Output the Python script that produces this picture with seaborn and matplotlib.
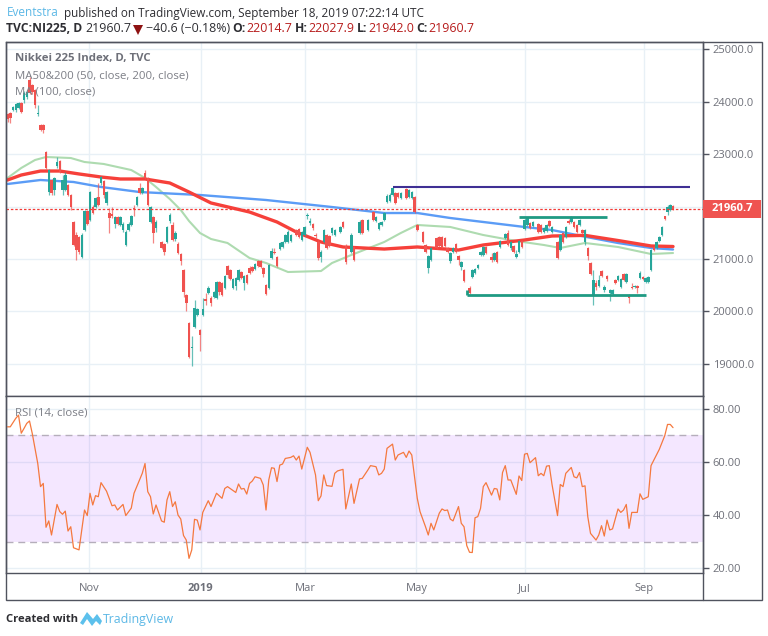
import numpy as np
import pandas as pd
import matplotlib
matplotlib.use("Agg")
import matplotlib.pyplot as plt
from matplotlib.patches import Rectangle, Polygon
import seaborn as sns

# Daily candles (bar = trading session counted from the left edge)
bars = [0, 1, 2, 3, 4, 5, 6, 7, 8, 9,
        10, 11, 12, 13, 14, 15, 16, 17, 18, 19,
        20, 21, 22, 23, 24, 25, 26, 27, 28, 29,
        30, 31, 32, 33, 34, 35, 36, 37, 38, 39,
        40, 41, 42, 43, 44, 45, 46, 47, 48, 49,
        50, 51, 52, 53, 54, 56, 57, 58, 59, 60,
        61, 62, 63, 64, 65, 66, 67, 68, 69, 70,
        71, 72, 73, 74, 75, 76, 77, 78, 79, 80,
        81, 82, 83, 84, 85, 86, 87, 88, 89, 90,
        91, 92, 93, 94, 95, 96, 97, 98, 99, 100,
        101, 102, 103, 105, 106, 107, 108, 109, 110, 111,
        112, 113, 114, 115, 116, 117, 118, 119, 121, 122,
        123, 125, 126, 128, 129, 131, 133, 134, 135, 136,
        137, 138, 139, 140, 141, 142, 143, 145, 146, 147,
        148, 149, 151, 152, 153, 154, 156, 157, 158, 159,
        160, 161, 162, 163, 164, 165, 166, 168, 169, 170,
        171, 172, 173, 174, 176, 177, 178, 179, 181, 182,
        183, 184, 185, 186, 187, 188, 189, 190, 191, 193,
        194, 195, 196, 197, 198, 200, 201, 202, 203, 204,
        205, 206, 207, 208, 209, 210, 211, 212, 213, 214,
        215, 216, 217, 218, 219, 220, 221, 222, 223, 224,
        225, 226, 227, 228, 229, 230, 231, 232, 233, 234,
        235, 236, 237, 238, 239, 240, 241, 242]

opens = [23762, 23781, 23839, 23839, 23877, 23972, 24029, 24086, 24410, 24315,
         24220, 23762, 23553, 23553, 23038, 22276, 22505, 22314, 22772, 22867,
         22314, 22314, 22410, 22219, 21705, 21457, 21419, 21038, 21552, 21914,
         21743, 21990, 21990, 22181, 22448, 22486, 22067, 21876, 21857, 21667,
         21800, 21648, 21552, 21267, 21552, 21648, 21971, 22029, 22353, 22257,
         22638, 22543, 21705, 21800, 21591, 21324, 21286, 21324, 21724, 21648,
         21381, 21286, 21095, 20790, 20314, 19781, 19305, 19705, 19933, 19648,
         19933, 20238, 20352, 20257, 20276, 20257, 20562, 20543, 20448, 20867,
         20790, 20448, 20486, 20600, 20752, 20543, 20695, 20829, 20848, 20810,
         20962, 20962, 20829, 20505, 20448, 21019, 21133, 21038, 21190, 21229,
         21324, 21324, 21343, 21552, 21572, 21362, 21457, 21819, 21686, 21667,
         21457, 21324, 21038, 21324, 21457, 21438, 21495, 21457, 21514, 21705,
         21248, 21133, 21229, 21495, 21743, 21552, 21895, 21724, 21572, 21648,
         21743, 22086, 22105, 22219, 22257, 22257, 22162, 22334, 22181, 22162,
         22181, 21648, 21514, 21267, 20829, 20981, 21400, 21419, 21419, 21400,
         21210, 20962, 21133, 21286, 21057, 20848, 20790, 20448, 20657, 20733,
         20829, 21076, 21076, 21229, 21038, 20981, 21133, 21229, 21400, 21495,
         21210, 21248, 21038, 21133, 21343, 21572, 21648, 21686, 21629, 21667,
         21648, 21514, 21533, 21724, 21514, 21324, 21171, 21495, 21419, 21724,
         21705, 21705, 21648, 21648, 21552, 21324, 21210, 20924, 20314, 20543,
         20486, 20771, 20410, 20676, 20352, 20333, 20600, 20600, 20467, 20714,
         20562, 20314, 20467, 20462, 20486, 20638, 20657, 20562, 20562, 20790,
         21229, 21210, 21343, 21457, 21819, 21895, 21933, 22014.7]

highs = [23781, 23800, 23915, 23972, 23991, 23991, 24200, 24220, 24467, 24334,
         24239, 23934, 23572, 23572, 23057, 22715, 22524, 22562, 22943, 22886,
         22600, 22657, 22429, 22238, 21724, 21514, 21438, 21495, 21933, 21933,
         22295, 22029, 22181, 22448, 22581, 22505, 22295, 21971, 21990, 21819,
         21819, 21819, 21705, 21552, 21705, 21838, 22029, 22200, 22448, 22372,
         22695, 22562, 22010, 21819, 21743, 21343, 21305, 21629, 21876, 21705,
         21533, 21324, 21114, 20810, 20333, 19800, 19533, 20219, 20067, 19667,
         20257, 20352, 20486, 20295, 20390, 20581, 20581, 20562, 20695, 20886,
         20810, 20638, 20657, 20810, 20771, 20695, 20714, 20867, 20867, 20924,
         20981, 20981, 20848, 20524, 20905, 21210, 21210, 21057, 21324, 21343,
         21476, 21552, 21476, 21572, 21591, 21533, 21629, 21876, 21781, 21686,
         21495, 21362, 21171, 21572, 21476, 21457, 21610, 21572, 21629, 21724,
         21286, 21495, 21248, 21743, 21762, 21762, 21914, 21819, 21705, 21724,
         21895, 22238, 22257, 22372, 22276, 22276, 22276, 22353, 22334, 22295,
         22200, 21667, 21533, 21286, 21076, 21229, 21419, 21438, 21438, 21419,
         21229, 21133, 21229, 21305, 21076, 20962, 20810, 20486, 20810, 20829,
         20905, 21152, 21248, 21248, 21114, 21133, 21152, 21362, 21495, 21552,
         21343, 21267, 21171, 21362, 21362, 21781, 21800, 21705, 21724, 21686,
         21667, 21610, 21667, 21743, 21629, 21343, 21476, 21514, 21629, 21762,
         21819, 21724, 21667, 21762, 21572, 21572, 21229, 20943, 20790, 20600,
         20695, 20790, 20505, 20695, 20429, 20429, 20619, 20695, 20638, 20733,
         20733, 20333, 20543, 20505, 20505, 20771, 20676, 20657, 20676, 21190,
         21248, 21343, 21438, 21629, 21819, 22029, 22048, 22027.9]

lows = [23610, 23591, 23820, 23800, 23858, 23781, 23972, 24048, 24143, 24143,
        23877, 23724, 23438, 23400, 22715, 22219, 22219, 22219, 22734, 22638,
        22219, 22295, 22200, 21933, 21248, 20981, 21095, 21019, 21533, 21648,
        21724, 21857, 21971, 22010, 22410, 22162, 22029, 21495, 21781, 21591,
        21648, 21629, 21514, 21248, 21533, 21629, 21819, 22010, 22238, 22238,
        22524, 22010, 21686, 21305, 21514, 21190, 21076, 21305, 21686, 21343,
        21343, 21095, 20886, 20276, 20010, 19114, 18962, 19686, 19914, 19248,
        19914, 20124, 20333, 20105, 20257, 20238, 20314, 20295, 20429, 20638,
        20600, 20429, 20410, 20581, 20619, 20410, 20524, 20714, 20752, 20790,
        20848, 20829, 20657, 20314, 20429, 21000, 21095, 20848, 21171, 21210,
        21305, 21305, 21324, 21438, 21400, 21343, 21438, 21762, 21648, 21552,
        21400, 20981, 20943, 21305, 21190, 21229, 21457, 21438, 21495, 21591,
        20905, 21114, 20962, 21476, 21476, 21533, 21724, 21705, 21552, 21629,
        21724, 22067, 22086, 22200, 22048, 22162, 22143, 22143, 22162, 22143,
        21876, 21533, 21305, 21114, 20733, 20962, 21190, 21229, 21210, 21229,
        21114, 20924, 21114, 21114, 20886, 20790, 20562, 20333, 20638, 20714,
        20810, 21057, 21057, 21095, 20943, 20962, 20924, 21210, 21381, 21248,
        21171, 21114, 21019, 21114, 21210, 21552, 21629, 21572, 21610, 21495,
        21495, 21495, 21514, 21610, 21495, 21000, 21152, 21305, 21400, 21667,
        21686, 21591, 21495, 21629, 21476, 21267, 20981, 20695, 20124, 20410,
        20467, 20657, 20371, 20581, 20200, 20314, 20524, 20581, 20448, 20581,
        20543, 20162, 20429, 20448, 20352, 20619, 20600, 20543, 20543, 20771,
        21152, 21190, 21324, 21438, 21743, 21838, 21914, 21942]

closes = [23667, 23686, 23896, 23953, 23972, 23800, 24162, 24181, 24162, 24181,
          23934, 23781, 23457, 23457, 22734, 22695, 22257, 22543, 22848, 22657,
          22505, 22600, 22219, 21990, 21267, 21171, 21133, 21457, 21914, 21667,
          22276, 21876, 22162, 22029, 22562, 22219, 22276, 21781, 21819, 21800,
          21667, 21800, 21667, 21514, 21667, 21819, 21953, 22181, 22257, 22353,
          22543, 22029, 21990, 21495, 21705, 21210, 21133, 21610, 21838, 21362,
          21495, 21114, 20962, 20371, 20162, 19133, 19324, 20067, 20048, 19552,
          20048, 20200, 20448, 20162, 20371, 20562, 20371, 20314, 20676, 20695,
          20619, 20619, 20638, 20790, 20638, 20676, 20543, 20733, 20771, 20905,
          20867, 20848, 20714, 20333, 20886, 21152, 21114, 20867, 21305, 21324,
          21457, 21514, 21457, 21457, 21419, 21514, 21610, 21838, 21724, 21591,
          21438, 21019, 21133, 21552, 21210, 21248, 21591, 21552, 21610, 21610,
          20943, 21457, 20981, 21705, 21495, 21743, 21743, 21800, 21686, 21705,
          21876, 22200, 22219, 22353, 22067, 22181, 22257, 22162, 22314, 22276,
          21895, 21552, 21324, 21133, 21057, 21210, 21210, 21248, 21229, 21248,
          21133, 21114, 21210, 21133, 20981, 20943, 20581, 20352, 20790, 20810,
          20886, 21133, 21229, 21114, 20981, 21114, 20943, 21343, 21476, 21267,
          21324, 21133, 21095, 21343, 21229, 21743, 21781, 21591, 21705, 21514,
          21514, 21591, 21648, 21629, 21610, 21019, 21457, 21324, 21610, 21686,
          21800, 21610, 21514, 21743, 21495, 21552, 21057, 20714, 20600, 20467,
          20600, 20676, 20467, 20619, 20410, 20410, 20543, 20676, 20619, 20600,
          20714, 20257, 20448, 20486, 20448, 20733, 20619, 20638, 20657, 21171,
          21171, 21324, 21419, 21610, 21762, 21990, 22029, 21960.7]

# Moving averages
ma100_bars = [0, 5, 12, 19, 26, 34, 41, 50, 59, 66, 74, 88, 98, 105, 114, 122, 137,
              149, 164, 173, 188, 198, 210, 222, 234, 242]
ma100_values = [22505, 22600, 22676, 22676, 22620, 22562, 22524, 22524, 22448, 22276,
                22067, 21895, 21705, 21514, 21324, 21229, 21190, 21229, 21171, 21267,
                21362, 21438, 21450, 21352, 21248, 21238]

ma200_bars = [0, 12, 24, 34, 48, 70, 94, 118, 137, 149, 161, 173, 188, 198, 210, 222, 234, 242]
ma200_values = [22429, 22505, 22467, 22372, 22276, 22219, 22124, 21990, 21876, 21876,
                21781, 21705, 21610, 21552, 21425, 21305, 21210, 21181]

ma50_bars = [0, 5, 10, 14, 23, 28, 35, 45, 50, 54, 59, 63, 66, 70, 74, 80, 88, 94, 102,
             114, 118, 125, 137, 143, 149, 161, 173, 185, 195, 201, 210, 222, 234, 242]
ma50_values = [22543, 22734, 22886, 22943, 22924, 22848, 22810, 22695, 22543, 22372,
               22143, 21933, 21724, 21495, 21381, 21305, 21019, 20924, 20752, 20771,
               20924, 21076, 21324, 21495, 21648, 21610, 21457, 21343, 21267, 21210,
               21305, 21229, 21095, 21114]

# RSI(14)
rsi_bars = [0, 1, 3, 4, 5, 6, 7, 8, 9, 11, 12, 13, 14, 15, 16, 18, 19, 20, 21, 22, 23, 24,
            26, 28, 29, 30, 31, 32, 33, 34, 36, 38, 39, 40, 42, 43, 45, 46, 48, 49, 50, 51,
            52, 53, 54, 56, 57, 58, 59, 60, 61, 62, 63, 64, 65, 66, 67, 68, 69, 70, 71, 72,
            73, 74, 76, 78, 79, 80, 82, 83, 84, 85, 86, 87, 88, 89, 90, 92, 93, 94, 95, 96,
            97, 98, 99, 100, 101, 103, 104, 105, 106, 107, 109, 110, 112, 113, 114, 115, 116,
            118, 119, 120, 122, 123, 125, 126, 128, 129, 131, 132, 134, 135, 136, 137, 138,
            140, 141, 142, 144, 145, 146, 147, 149, 150, 151, 152, 153, 154, 155, 157, 158,
            159, 160, 161, 162, 164, 165, 166, 167, 168, 169, 170, 171, 172, 173, 174, 176,
            177, 178, 179, 180, 181, 182, 183, 185, 186, 187, 188, 189, 190, 192, 193, 194,
            195, 196, 197, 198, 200, 201, 202, 203, 205, 206, 207, 208, 209, 210, 211, 212,
            214, 215, 216, 217, 218, 219, 220, 222, 223, 224, 225, 226, 227, 229, 230, 231,
            233, 234, 237, 239, 240, 241, 242]
rsi_values = [73.2, 73.2, 76.4, 77.6, 70.8, 72.6, 74.5, 75.4, 70.7, 59.4, 50.7, 51.9, 35.4,
              37.8, 32.5, 44.0, 41.3, 40.3, 41.5, 34.0, 35.6, 27.7, 26.9, 41.9, 39.8, 48.2,
              43.8, 47.3, 46.9, 52.2, 49.0, 43.5, 43.8, 41.9, 44.0, 39.8, 42.6, 48.2, 53.2,
              55.7, 59.4, 48.8, 46.9, 40.4, 43.8, 37.8, 37.3, 45.7, 48.8, 43.2, 45.0, 40.0,
              38.5, 32.3, 30.6, 23.7, 26.9, 38.4, 38.1, 34.4, 41.0, 43.2, 45.4, 43.2, 48.2,
              46.3, 50.0, 50.7, 49.2, 48.5, 51.7, 49.8, 50.0, 47.9, 51.9, 52.8, 54.4, 53.8,
              51.3, 41.9, 53.2, 57.8, 57.6, 52.6, 58.8, 59.2, 61.3, 61.7, 62.3, 60.7, 62.2,
              57.3, 65.5, 63.6, 55.1, 45.4, 47.2, 55.1, 51.1, 50.8, 55.7, 56.6, 57.2, 42.3,
              51.7, 44.4, 53.6, 53.8, 56.9, 58.6, 58.2, 55.1, 55.7, 57.3, 65.1, 66.7, 60.7,
              62.6, 63.6, 61.7, 64.1, 62.6, 46.3, 41.3, 38.5, 35.6, 32.5, 36.9, 34.4, 40.7,
              42.3, 41.7, 41.9, 38.5, 37.8, 43.2, 36.9, 35.6, 28.5, 26.0, 25.9, 39.0, 39.4,
              42.5, 50.7, 52.2, 47.5, 50.0, 49.8, 45.7, 56.0, 58.6, 53.2, 53.2, 47.8, 54.7,
              53.0, 62.9, 63.2, 59.7, 61.6, 54.8, 55.7, 54.8, 58.4, 58.6, 51.5, 39.8, 51.5,
              50.7, 55.7, 57.9, 54.4, 54.0, 56.0, 50.7, 51.0, 39.4, 33.1, 30.6, 32.5, 36.0,
              32.1, 38.1, 34.4, 34.8, 42.3, 41.0, 41.9, 44.0, 35.0, 41.0, 41.0, 48.0, 45.9,
              46.9, 58.6, 64.7, 69.9, 74.1, 74.1, 72.9]

# Drawn support / resistance lines: (start bar, end bar, price)
top_line = [140, 248, 22372]
mid_line = [186, 218, 21800]
low_line = [167, 232, 20314]

last_price = 21960.7
price_ticks = [25000, 24000, 23000, 22000, 21000, 20000, 19000]
rsi_ticks = [80, 60, 40, 20]
time_tick_bars = [29.8, 70.2, 108.2, 148.7, 188, 231.5]
time_tick_labels = ["Nov", "2019", "Mar", "May", "Jul", "Sep"]

W, H = 768, 636
UP = "#26a69a"
DOWN = "#f0524f"
GRID = "#e8f0f6"
AXIS = "#50535e"
LABEL = "#6e7079"

sns.set_theme(style="white")
plt.rcParams["font.family"] = ["Open Sans", "DejaVu Sans"]

df = pd.DataFrame({"bar": bars, "open": opens, "high": highs, "low": lows, "close": closes})
df["color"] = np.where(df["close"] >= df["open"], UP, DOWN)

fig = plt.figure(figsize=(W / 100, H / 100), dpi=100, facecolor="white")


def pane(left, top, right, bottom):
    return fig.add_axes([left / W, 1 - bottom / H, (right - left) / W, (bottom - top) / H])


ax = pane(6, 42, 703, 396)
ax_rsi = pane(6, 396, 703, 573)
for a in (ax, ax_rsi):
    a.set_xlim(-0.55, 252.9)
    a.set_xticks(time_tick_bars)
    a.grid(True, color=GRID, linewidth=1)
    a.set_axisbelow(True)
    a.yaxis.tick_right()
    a.set_xlabel("")
    a.set_ylabel("")
    for s in a.spines.values():
        s.set_color(AXIS)
        s.set_linewidth(1)
ax.set_ylim(18390, 25134)
ax.set_yticks(price_ticks)
ax.set_yticklabels([f"{v:.1f}" for v in price_ticks])
ax.tick_params(axis="x", length=0, labelbottom=False)
ax.tick_params(axis="y", length=4, width=1, color=AXIS, labelsize=8, labelcolor=LABEL, pad=3)

# Moving averages go under the candles
sns.lineplot(x=ma50_bars, y=ma50_values, ax=ax, color="#aedbb0", linewidth=1.5, estimator=None, legend=False, zorder=2)
sns.lineplot(x=ma200_bars, y=ma200_values, ax=ax, color="#5b9cf6", linewidth=1.7, estimator=None, legend=False, zorder=2)
sns.lineplot(x=ma100_bars, y=ma100_values, ax=ax, color="#f6403a", linewidth=2.4, estimator=None, legend=False, zorder=2)

# Candles
ax.vlines(df["bar"], df["low"], df["high"], colors=df["color"], linewidth=0.9, alpha=0.7, zorder=3)
body = (df["close"] - df["open"]).abs().clip(lower=20)
ax.bar(df["bar"], body, bottom=df[["open", "close"]].min(axis=1), width=0.9,
       color=df["color"], linewidth=0, zorder=4)

# Trend lines
ax.hlines(top_line[2], top_line[0], top_line[1], color="#3f2f94", linewidth=1.5, zorder=5)
ax.hlines(mid_line[2], mid_line[0], mid_line[1], color="#1f9a83", linewidth=2.0, zorder=5)
ax.hlines(low_line[2], low_line[0], low_line[1], color="#1f9a83", linewidth=2.0, zorder=5)
ax.vlines(low_line[0], low_line[2], low_line[2] + 100, color="#1f9a83", linewidth=2.0, zorder=5)

# Last price
ax.axhline(last_price, color="#f23b36", linewidth=0.9, linestyle=(0, (2, 1.5)), zorder=5)

# RSI pane
ax_rsi.set_ylim(18.2, 84.8)
ax_rsi.set_yticks(rsi_ticks)
ax_rsi.set_yticklabels([f"{v:.2f}" for v in rsi_ticks])
ax_rsi.set_xticklabels(time_tick_labels)
ax_rsi.tick_params(axis="x", length=4, width=1, color=AXIS, labelsize=8, labelcolor=LABEL, pad=3)
ax_rsi.get_xticklabels()[1].set_fontweight("bold")
ax_rsi.tick_params(axis="y", length=4, width=1, color=AXIS, labelsize=8, labelcolor=LABEL, pad=3)
ax_rsi.axhspan(30, 70, color="#9915ff", alpha=0.1, linewidth=0, zorder=1)
for level in (30, 70):
    ax_rsi.axhline(level, color="#b5aebb", linewidth=1, linestyle=(0, (5, 3.5)), zorder=2)
sns.lineplot(x=rsi_bars, y=rsi_values, ax=ax_rsi, color="#f5793f", linewidth=0.9, estimator=None, legend=False, zorder=3)

# Overlay in pixel coordinates for the frame, header and footer
over = fig.add_axes([0, 0, 1, 1], facecolor="none")
over.set_xlim(0, W)
over.set_ylim(H, 0)
over.axis("off")
over.add_patch(Rectangle((6, 42), 756, 558, fill=False, edgecolor=AXIS, linewidth=1))
over.plot([703, 703], [42, 600], color=AXIS, linewidth=1)

DARK = "#2e2e33"
PRICE_RED = "#b71c1c"
over.text(6.5, 13, "Eventstra", color="#5cb8e6", fontsize=8.5, va="center")
over.text(64.5, 13, "published on TradingView.com, September 18, 2019 07:22:14 UTC", color=DARK, fontsize=8.5, va="center")
over.text(6.5, 29, "TVC:NI225, D", color=DARK, fontsize=8.7, fontweight="bold", va="center")
over.text(85, 29, "21960.7", color=DARK, fontsize=8.9, va="center")
over.plot([137.5], [29.5], marker="v", markersize=7.5, color="#8e1212", markeredgewidth=0)
over.text(146, 29, "\u221240.6 (\u22120.18%)", color=DARK, fontsize=8.9, va="center")
for x_key, key, x_val, val in [(232, "O:", 246, "22014.7"), (295, "H:", 308, "22027.9"),
                               (357, "L:", 368, "21942.0"), (416, "C:", 428, "21960.7")]:
    over.text(x_key, 29, key, color=DARK, fontsize=8.7, fontweight="bold", va="center")
    over.text(x_val, 29, val, color=PRICE_RED, fontsize=8.9, va="center")

over.text(15, 59, "Nikkei 225 Index, D, TVC", color="#6e7079", fontsize=8.2, fontweight="bold", va="center")
over.text(15, 75.5, "MA50&200 (50, close, 200, close)", color="#7c7e86", fontsize=8.2, va="center")
over.text(15, 92, "MA (100, close)", color="#7c7e86", fontsize=8.2, va="center")
over.text(15, 413, "RSI (14, close)", color="#7c7e86", fontsize=8.2, va="center")

# Last price label on the scale
over.add_patch(Rectangle((703, 199.5), 58, 18, color="#ef5350", linewidth=0, zorder=6))
over.text(712, 208.5, "21960.7", color="white", fontsize=8, fontweight="bold", va="center", zorder=7)

# Footer
over.text(6, 619, "Created with", color=DARK, fontsize=8.1, fontweight="bold", va="center")
logo = [(80, 623), (87, 612), (93, 619), (97, 614), (102, 621), (100, 625), (96, 621), (92, 626), (87, 619), (83, 625)]
over.add_patch(Polygon(logo, closed=True, color="#5cc0ec", linewidth=0))
over.text(103, 619, "TradingView", color="#5cb8e6", fontsize=8.9, va="center")

fig.savefig("out.png", dpi=100, facecolor="white")
